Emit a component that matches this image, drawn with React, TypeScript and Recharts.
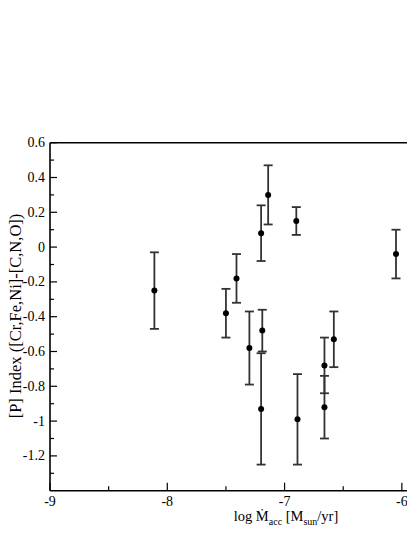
import React from "react";
import { ScatterChart, Scatter, XAxis, YAxis, ErrorBar } from "recharts";

const xValues = [-8.11, -7.5, -7.41, -7.3, -7.2, -7.19, -7.2, -7.14, -6.9, -6.89, -6.66, -6.66, -6.58, -6.05];
const yValues = [-0.25, -0.38, -0.18, -0.58, 0.08, -0.48, -0.93, 0.3, 0.15, -0.99, -0.68, -0.92, -0.53, -0.04];
const errTop = [-0.03, -0.24, -0.04, -0.37, 0.24, -0.36, -0.61, 0.47, 0.23, -0.73, -0.52, -0.74, -0.37, 0.1];
const errBottom = [-0.47, -0.52, -0.32, -0.79, -0.08, -0.6, -1.25, 0.13, 0.07, -1.25, -0.84, -1.1, -0.69, -0.18];

const xTicks = [-9, -8.5, -8, -7.5, -7, -6.5, -6];
const yTicks = [-1.3, -1.2, -1.1, -1, -0.9, -0.8, -0.7, -0.6, -0.5, -0.4, -0.3, -0.2, -0.1, 0, 0.1, 0.2, 0.3, 0.4, 0.5, 0.6];

const data = xValues.map((x, i) => ({
  x,
  y: yValues[i],
  err: [yValues[i] - errBottom[i], errTop[i] - yValues[i]],
}));

const FONT = "'Liberation Serif', 'DejaVu Serif', serif";
const W = 407;
const H = 529;
const LEFT = 42;
const TOP = 134.7;
const PLOT_H = 348;
const BOTTOM = H - TOP - PLOT_H;

const isMajorX = (v: number) => Math.abs(v - Math.round(v)) < 1e-6;
const isMajorY = (v: number) => Math.abs(v * 5 - Math.round(v * 5)) < 1e-6;

const LeftTick = (props: any) => {
  const { x, y, payload } = props;
  const v = Number(payload.value);
  const major = isMajorY(v);
  const label = String(Number(v.toFixed(1)));
  return (
    <g>
      <line x1={x} y1={y} x2={x + (major ? 7 : 4)} y2={y} stroke="#000" strokeWidth={1.2} />
      {major && (
        <text x={x - 5} y={y} textAnchor="end" dominantBaseline="central" fontFamily={FONT} fontSize={14} fill="#000">
          {label}
        </text>
      )}
    </g>
  );
};

const BottomTick = (props: any) => {
  const { x, y, payload } = props;
  const v = Number(payload.value);
  const major = isMajorX(v);
  return (
    <g>
      <line x1={x} y1={y} x2={x} y2={y - (major ? 8 : 4.5)} stroke="#000" strokeWidth={1.2} />
      {major && (
        <text x={x} y={y + 15} textAnchor="middle" fontFamily={FONT} fontSize={14} fill="#000">
          {String(v)}
        </text>
      )}
    </g>
  );
};

const TopTick = (props: any) => {
  const { x, y, payload } = props;
  const v = Number(payload.value);
  const major = isMajorX(v);
  return <line x1={x} y1={y} x2={x} y2={y + (major ? 7 : 4)} stroke="#000" strokeWidth={1.2} />;
};

const Dot = (props: any) => <circle cx={props.cx} cy={props.cy} r={3} fill="#000" />;

const XLabel = () => (
  <text x={278} y={513} textAnchor="middle" fontFamily={FONT} fontSize={14.5} fill="#000">
    <tspan>log Ṁ</tspan>
    <tspan fontSize={10} dy={4}>acc</tspan>
    <tspan dy={-4}> [M</tspan>
    <tspan fontSize={10} dy={4}>sun</tspan>
    <tspan dy={-4}>/yr]</tspan>
  </text>
);

const YLabel = () => (
  <text
    x={7}
    y={308}
    transform="rotate(-90 7 308)"
    textAnchor="middle"
    dominantBaseline="central"
    fontFamily={FONT}
    fontSize={16.5}
    fill="#000"
  >
    [P] Index ([Cr,Fe,Ni]-[C,N,O])
  </text>
);

export default function App() {
  return (
    <ScatterChart width={W} height={H} margin={{ top: 0, right: 0, bottom: 0, left: 0 }}>
      <XAxis
        xAxisId="bottom"
        dataKey="x"
        type="number"
        domain={[-9, -5.888]}
        ticks={xTicks}
        interval={0}
        allowDataOverflow
        height={BOTTOM}
        tickSize={0}
        tickMargin={0}
        tickLine={false}
        axisLine={{ stroke: "#000", strokeWidth: 1.6 }}
        tick={<BottomTick />}
        label={{ content: () => <XLabel /> }}
      />
      <XAxis
        xAxisId="top"
        orientation="top"
        type="number"
        domain={[-9, -5.888]}
        ticks={xTicks}
        interval={0}
        allowDataOverflow
        height={TOP}
        tickSize={0}
        tickMargin={0}
        tickLine={false}
        axisLine={{ stroke: "#000", strokeWidth: 1.6 }}
        tick={<TopTick />}
      />
      <YAxis
        dataKey="y"
        type="number"
        domain={[-1.4, 0.6]}
        ticks={yTicks}
        interval={0}
        allowDataOverflow
        width={LEFT}
        tickSize={0}
        tickMargin={0}
        tickLine={false}
        axisLine={{ stroke: "#000", strokeWidth: 1.6 }}
        tick={<LeftTick />}
        label={{ content: () => <YLabel /> }}
      />
      <Scatter data={data} xAxisId="bottom" shape={<Dot />} isAnimationActive={false}>
        <ErrorBar dataKey="err" direction="y" stroke="#333" strokeWidth={1.8} width={4.5} isAnimationActive={false} />
      </Scatter>
    </ScatterChart>
  );
}
